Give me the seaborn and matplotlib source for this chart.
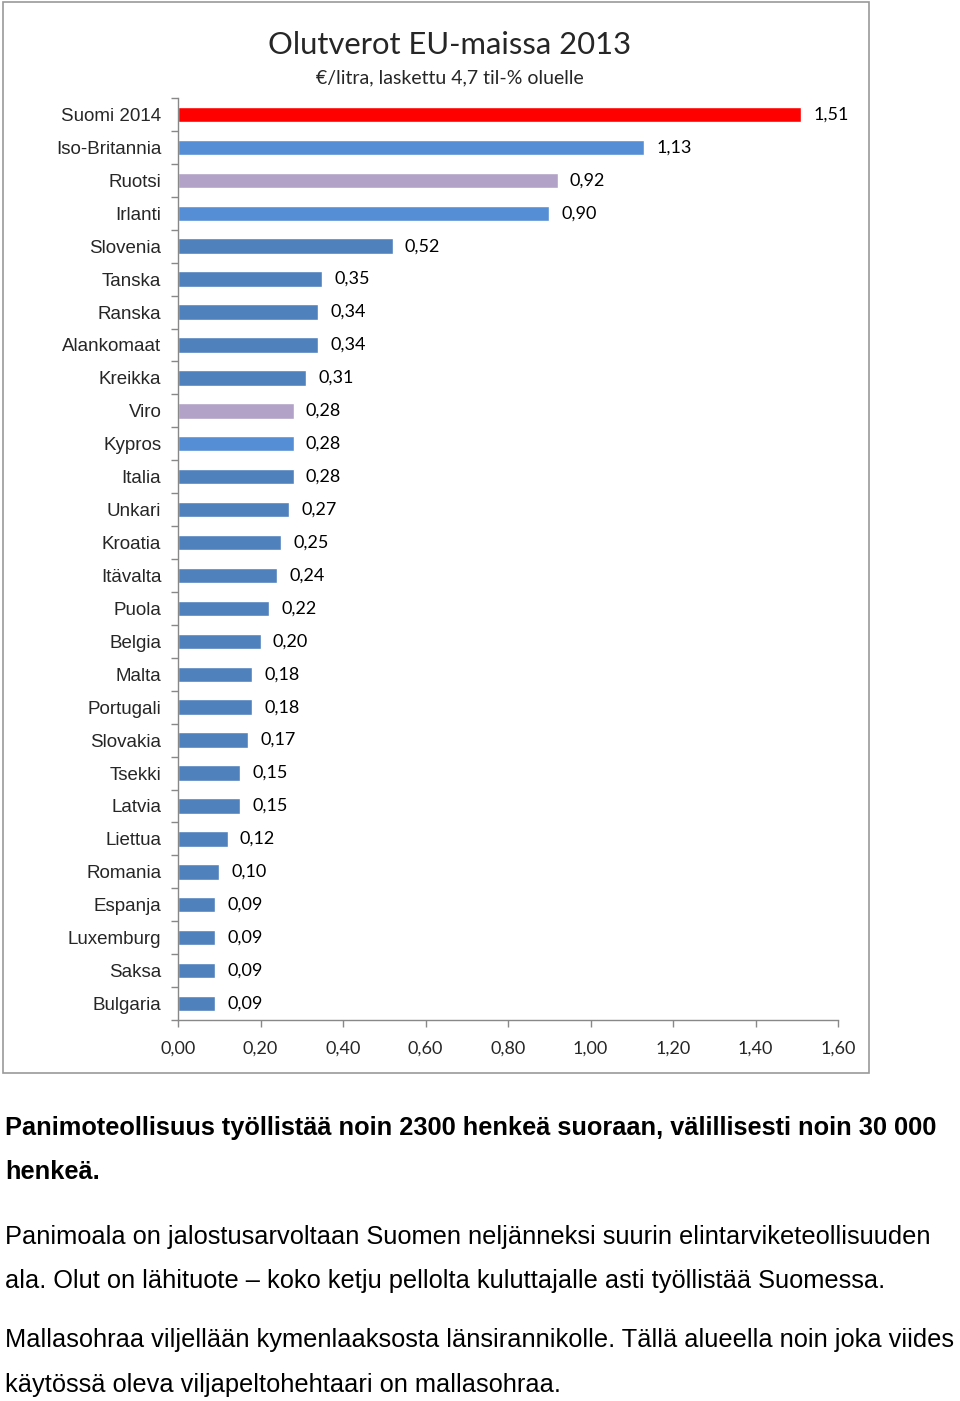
import pandas as pd
import matplotlib.pyplot as plt
import seaborn as sns
from matplotlib.patches import Rectangle

# Beer tax per litre (4.7 % abv), EU countries 2013
countries = ['Suomi 2014', 'Iso-Britannia', 'Ruotsi', 'Irlanti', 'Slovenia', 'Tanska',
             'Ranska', 'Alankomaat', 'Kreikka', 'Viro', 'Kypros', 'Italia', 'Unkari',
             'Kroatia', 'Itävalta', 'Puola', 'Belgia', 'Malta', 'Portugali', 'Slovakia',
             'Tsekki', 'Latvia', 'Liettua', 'Romania', 'Espanja', 'Luxemburg', 'Saksa',
             'Bulgaria']
tax = [1.51, 1.13, 0.92, 0.90, 0.52, 0.35, 0.34, 0.34, 0.31, 0.28, 0.28, 0.28, 0.27,
       0.25, 0.24, 0.22, 0.20, 0.18, 0.18, 0.17, 0.15, 0.15, 0.12, 0.10, 0.09, 0.09,
       0.09, 0.09]
labels = ['1,51', '1,13', '0,92', '0,90', '0,52', '0,35', '0,34', '0,34', '0,31', '0,28',
          '0,28', '0,28', '0,27', '0,25', '0,24', '0,22', '0,20', '0,18', '0,18', '0,17',
          '0,15', '0,15', '0,12', '0,10', '0,09', '0,09', '0,09', '0,09']
xticks = [0.0, 0.2, 0.4, 0.6, 0.8, 1.0, 1.2, 1.4, 1.6]
xticklabels = ['0,00', '0,20', '0,40', '0,60', '0,80', '1,00', '1,20', '1,40', '1,60']

base = '#4F81BD'
light = '#558ED5'
lilac = '#B3A2C7'
colors = {c: base for c in countries}
colors['Suomi 2014'] = '#FF0000'
for c in ['Iso-Britannia', 'Irlanti', 'Kypros']:
    colors[c] = light
for c in ['Ruotsi', 'Viro']:
    colors[c] = lilac

df = pd.DataFrame({'country': countries, 'tax': tax})

sns.set_style('white')
plt.rcParams['font.family'] = ['Liberation Sans', 'DejaVu Sans']

fig = plt.figure(figsize=(9.6, 14.01), dpi=100)
ax = fig.add_axes([178 / 960, 1 - 1020 / 1401, 660 / 960, 922 / 1401])

sns.barplot(data=df, x='tax', y='country', hue='country', palette=colors,
            orient='h', width=0.47, legend=False, ax=ax, saturation=1)

ax.set_xlim(0, 1.6)
ax.set_ylim(len(countries) - 0.5, -0.5)
ax.set_xlabel('')
ax.set_ylabel('')

for i, (v, lab) in enumerate(zip(tax, labels)):
    ax.text(v + 0.03, i, lab, va='center', ha='left', fontsize=13,
            family='Lato', color='black')

ax.set_xticks(xticks)
ax.set_xticklabels(xticklabels, fontsize=13, family='Lato')
ax.set_yticks(range(len(countries)))
ax.set_yticklabels(countries, fontsize=13.5, family='Liberation Sans')
ax.tick_params(axis='y', length=0, pad=12)
ax.tick_params(axis='x', length=5, width=1, color='#888888', pad=10, direction='out')
# category boundary ticks on y axis
ax.set_yticks([i + 0.5 for i in range(-1, len(countries))], minor=True)
ax.tick_params(axis='y', which='minor', length=5, width=1, color='#888888', left=True)
ax.tick_params(axis='x', bottom=True)

for s in ['top', 'right']:
    ax.spines[s].set_visible(False)
for s in ['left', 'bottom']:
    ax.spines[s].set_color('#888888')
    ax.spines[s].set_linewidth(1)

fig.text(450 / 960, 1 - 45 / 1401, 'Olutverot EU-maissa 2013', ha='center', va='center',
         fontsize=22.3, family='Lato')
fig.text(450 / 960, 1 - 78 / 1401, '€/litra, laskettu 4,7 til-% oluelle', ha='center',
         va='center', fontsize=14, family='Lato')

fig.patches.append(Rectangle((3 / 960, 1 - 1073 / 1401), 866 / 960, 1071 / 1401,
                             transform=fig.transFigure, fill=False,
                             edgecolor='#999999', linewidth=1.2))

para = [
    (1128, 'Panimoteollisuus työllistää noin 2300 henkeä suoraan, välillisesti noin 30 000', 'bold'),
    (1172, 'henkeä.', 'bold'),
    (1237, 'Panimoala on jalostusarvoltaan Suomen neljänneksi suurin elintarviketeollisuuden', 'normal'),
    (1281, 'ala. Olut on lähituote – koko ketju pellolta kuluttajalle asti työllistää Suomessa.', 'normal'),
    (1340, 'Mallasohraa viljellään kymenlaaksosta länsirannikolle. Tällä alueella noin joka viides', 'normal'),
    (1385, 'käytössä oleva viljapeltohehtaari on mallasohraa.', 'normal'),
]
for y, txt, w in para:
    fig.text(5 / 960, 1 - y / 1401, txt, ha='left', va='center', fontsize=18.3,
             fontweight=w, color='black')

fig.savefig('out.png', dpi=100)
